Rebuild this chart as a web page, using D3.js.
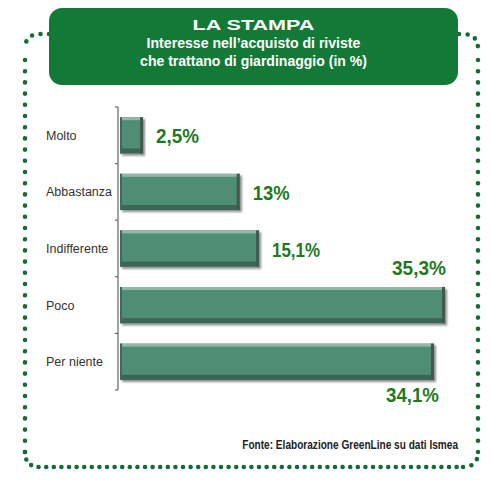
<!DOCTYPE html>
<html><head><meta charset="utf-8">
<script src="https://cdn.jsdelivr.net/npm/d3@7"></script>
<style>html,body{margin:0;padding:0;background:#fff;}svg{display:block;}</style>
</head><body>
<script>
const categories = ["Molto","Abbastanza","Indifferente","Poco","Per niente"];
const values = [2.5, 13, 15.1, 35.3, 34.1];
const valueLabels = ["2,5%","13%","15,1%","35,3%","34,1%"];
const title = "LA STAMPA";
const subtitle = ["Interesse nell\u2019acquisto di riviste","che trattano di giardinaggio (in %)"];
const source = "Fonte: Elaborazione GreenLine su dati Ismea";

const W = 491, H = 480;
const svg = d3.select("body").append("svg").attr("width", W).attr("height", H);
const defs = svg.append("defs");
const f = defs.append("filter").attr("id","sh").attr("x","-5%").attr("y","-20%").attr("width","115%").attr("height","150%");
f.append("feGaussianBlur").attr("in","SourceAlpha").attr("stdDeviation",1.3).attr("result","b");
f.append("feOffset").attr("in","b").attr("dx",2).attr("dy",2).attr("result","o");
f.append("feComponentTransfer").attr("in","o").attr("result","o2").append("feFuncA").attr("type","linear").attr("slope",0.45);
const m = f.append("feMerge"); m.append("feMergeNode").attr("in","o2"); m.append("feMergeNode").attr("in","SourceGraphic");

const green = "#127a36", dot = "#166b35";
const narrow = "'Liberation Sans Narrow','Liberation Sans', Arial, sans-serif";

// place a text whose anchor is at (ax, ay), horizontally scaled so that it is `w` wide
function fitText(parent, str, ax, ay, w, anchor, attrs){
  const g = parent.append("g");
  const t = g.append("text").attr("x",0).attr("y",0).attr("text-anchor",anchor).text(str);
  Object.entries(attrs).forEach(([k,v])=>t.attr(k,v));
  const nat = t.node().getComputedTextLength();
  const s = w / nat;
  g.attr("transform",`translate(${ax},${ay}) scale(${s},1)`);
  return t;
}

// dotted frame
const L = 25, R = 478, T = 34, B = 467, r = 15;
function dotted(d, gap){
  svg.append("path").attr("d", d).attr("fill","none").attr("stroke",dot)
    .attr("stroke-width",4.6).attr("stroke-linecap","round").attr("stroke-dasharray","0 "+gap);
}
dotted(`M49,${T} L${L+r},${T} Q${L},${T} ${L},${T+r}`, 8.5);
dotted(`M${L},${T+r+11} L${L},${B-r}`, 11.2);
dotted(`M${L},${B-r} Q${L},${B} ${L+r},${B} L${R-r},${B}`, 7.6);
dotted(`M${R},${B-r} L${R},${T+r+11}`, 11.2);
dotted(`M${R-r},${B} Q${R},${B} ${R},${B-r}`, 8.5);
dotted(`M459,${T} L${R-r},${T} Q${R},${T} ${R},${T+r}`, 8.5);

// header
svg.append("rect").attr("x",49).attr("y",8).attr("width",409).attr("height",77).attr("rx",13).attr("fill",green);
const cx = 253.5;
fitText(svg, title, cx, 30, 122, "middle", {"fill":"#fff","font-family":"'Liberation Sans', Arial, sans-serif","font-weight":"bold","font-size":15.5});
const subW = [214, 227];
subtitle.forEach((s,i)=>{
  fitText(svg, s, cx, 48+i*18, subW[i], "middle", {"fill":"#fff","font-family":narrow,"font-weight":"bold","font-size":15});
});

// scales
const y = d3.scaleBand().domain(categories).range([107, 390]).paddingInner(0.36).paddingOuter(0.18);
const x = d3.scaleLinear().domain([0, 35.3]).range([120, 445]);

// axis
const ax = svg.append("g");
ax.append("line").attr("x1",118).attr("x2",118).attr("y1",107).attr("y2",390).attr("stroke","#666").attr("stroke-width",1.2);
const bounds = d3.range(categories.length+1).map(i => 107 + i*y.step());
ax.selectAll("line.t").data(bounds).join("line").attr("class","t")
  .attr("x1",115).attr("x2",118).attr("y1",d=>d).attr("y2",d=>d).attr("stroke","#666").attr("stroke-width",1.2);

// category labels
svg.selectAll("text.cat").data(categories).join("text").attr("class","cat")
  .attr("x",46).attr("y",d=>y(d)+y.bandwidth()/2+4.5)
  .attr("font-family","'Liberation Sans', Arial, sans-serif").attr("font-size",12.5).attr("fill","#333")
  .text(d=>d);

// bars
const bars = svg.selectAll("g.bar").data(categories).join("g").attr("class","bar").attr("filter","url(#sh)");
bars.append("rect").attr("x",x(0)).attr("y",d=>y(d)).attr("width",(d,i)=>x(values[i])-x(0)).attr("height",y.bandwidth()).attr("fill","#4f8d76");
bars.append("rect").attr("x",x(0)).attr("y",d=>y(d)).attr("width",(d,i)=>x(values[i])-x(0)).attr("height",3).attr("fill","#93b8a8");
bars.append("rect").attr("x",x(0)).attr("y",d=>y(d)+y.bandwidth()-5).attr("width",(d,i)=>x(values[i])-x(0)).attr("height",5).attr("fill","#3a6655");
bars.append("rect").attr("x",(d,i)=>x(values[i])-3).attr("y",d=>y(d)).attr("width",3).attr("height",y.bandwidth()).attr("fill","#3f5a4e");
bars.append("rect").attr("x",x(0)).attr("y",d=>y(d)).attr("width",2).attr("height",y.bandwidth()).attr("fill","#3f6a58");

// value labels
const labW = [43,37,48,54,53];
categories.forEach((c,i)=>{
  const end = i>=3;
  const lx = end ? x(values[i]) + (i===3?1:5) : x(values[i]) + 13;
  const ly = i===3 ? y(c) - 12 : i===4 ? y(c)+y.bandwidth()+22 : y(c)+y.bandwidth()/2+8;
  fitText(svg, valueLabels[i], lx, ly, labW[i], end ? "end" : "start",
    {"fill":"#1f7a1f","font-family":narrow,"font-weight":"bold","font-size":21});
});

// source
fitText(svg, source, 458, 449, 216, "end", {"fill":"#222","font-family":narrow,"font-weight":"bold","font-size":13});
</script>
</body></html>
